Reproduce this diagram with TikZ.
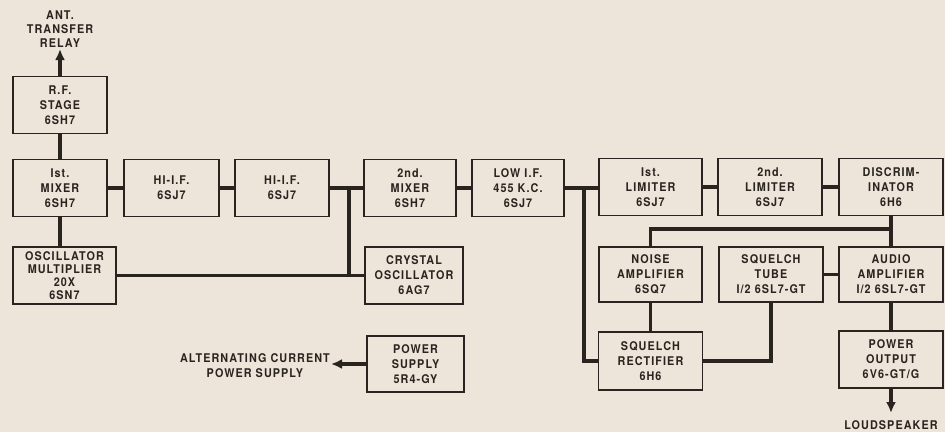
\documentclass[tikz,border=0pt]{standalone}
\usepackage{fontspec}
\newfontfamily\lblfont{TeX Gyre Heros}[LetterSpace=9,FakeStretch=0.9]
\usetikzlibrary{arrows.meta,calc}
\definecolor{paper}{HTML}{EDE5D9}
\definecolor{ink}{HTML}{2A2420}
\begin{document}
\begin{tikzpicture}[x=1pt,y=-1pt,
  every node/.style={font=\lblfont\bfseries\fontsize{12}{15}\selectfont, text=ink, align=center, inner sep=0pt},
  blk/.style={draw=ink, line width=1.6pt, minimum width=#1, minimum height=57pt},
  blk/.default=103pt,
  tight/.style={font=\lblfont\bfseries\fontsize{12}{13}\selectfont},
  wire/.style={draw=ink, line width=3.2pt},
  arr/.style={wire, -{Latex[length=11pt,width=10pt]}}
]
\fill[paper] (0,0) rectangle (945,432);
\useasboundingbox (0,0) rectangle (945,432);

% left column and first row
\node[blk=94pt] (rf) at (60,105) {R.F.\\STAGE\\6SH7};
\node[blk=94pt] (mix1) at (60,188) {Ist.\\MIXER\\6SH7};
\node[blk=95pt] (hif1) at (171.5,188) {HI-I.F.\\6SJ7};
\node[blk=94pt] (hif2) at (282,188) {HI-I.F.\\6SJ7};
\node[blk=92pt] (mix2) at (410,188) {2nd.\\MIXER\\6SH7};
\node[blk=92pt] (lowif) at (518,188) {LOW I.F.\\455 K.C.\\6SJ7};
\node[blk=103pt] (lim1) at (650.5,187) {Ist.\\LIMITER\\6SJ7};
\node[blk=104pt] (lim2) at (770,187) {2nd.\\LIMITER\\6SJ7};
\node[blk=104pt] (disc) at (891,187) {DISCRIM-\\INATOR\\6H6};

% second row
\node[blk=103pt, tight] (osc) at (64.5,275.5) {OSCILLATOR\\MULTIPLIER\\20X\\6SN7};
\node[blk=98pt] (xtal) at (414,275.5) {CRYSTAL\\OSCILLATOR\\6AG7};
\node[blk=103pt, minimum height=55pt] (noise) at (650.5,274.5) {NOISE\\AMPLIFIER\\6SQ7};
\node[blk=104pt, minimum height=55pt] (sqt) at (771,274.5) {SQUELCH\\TUBE\\I/2 6SL7-GT};
\node[blk=104pt, minimum height=55pt] (audio) at (891,274.5) {AUDIO\\AMPLIFIER\\I/2 6SL7-GT};

% third row
\node[blk=97pt, minimum height=56pt] (psu) at (415.5,364) {POWER\\SUPPLY\\5R4-GY};
\node[blk=104pt, minimum height=58pt] (sqr) at (650.5,361) {SQUELCH\\RECTIFIER\\6H6};
\node[blk=104pt] (pout) at (891,359.5) {POWER\\OUTPUT\\6V6-GT/G};

% free ends and labels
\coordinate (anttip) at (60,49);
\node[anchor=south, font=\lblfont\bfseries\fontsize{12}{14}\selectfont] (ant) at (60,48) {ANT.\\TRANSFER\\RELAY};
\coordinate (actip) at (331,364);
\node[anchor=east] (ac) at (330,366) {ALTERNATING CURRENT\\POWER SUPPLY};
\coordinate (lstip) at (891,413);
\node (ls) at (891,425) {LOUDSPEAKER};

% junctions
\coordinate (j1) at (349,188);
\coordinate (j2) at (584,188);
\coordinate (j3) at (891,229);
\coordinate (j4) at (650.5,229);

% connectors
\draw[arr] (rf.north) -- (anttip);
\draw[wire] (rf.south) -- (mix1.north);
\draw[wire] (mix1.east) -- (hif1.west);
\draw[wire] (hif1.east) -- (hif2.west);
\draw[wire] (hif2.east) -- (mix2.west);
\draw[wire] (mix1.south) -- (mix1.south |- osc.north);
\draw[wire] (osc.east) -- (xtal.west);
\draw[wire] (j1) -- (j1 |- xtal.west);
\draw[wire] (mix2.east) -- (lowif.west);
\draw[wire] (lowif.east) -- (lowif.east -| lim1.west);
\draw[wire] (j2) -- (j2 |- sqr.west) -- (sqr.west);
\draw[wire] (lim1.east) -- (lim2.west);
\draw[wire] (lim2.east) -- (disc.west);
\draw[wire] (disc.south) -- (audio.north);
\draw[wire] (j3) -- (j4) -- (noise.north);
\draw[wire] (sqt.east) -- (audio.west);
\draw[wire] (noise.south) -- (sqr.north);
\draw[wire] (sqr.east) -| (sqt.south);
\draw[wire] (audio.south) -- (pout.north);
\draw[arr] (pout.south) -- (lstip);
\draw[arr] (psu.west) -- (actip);
\end{tikzpicture}
\end{document}
